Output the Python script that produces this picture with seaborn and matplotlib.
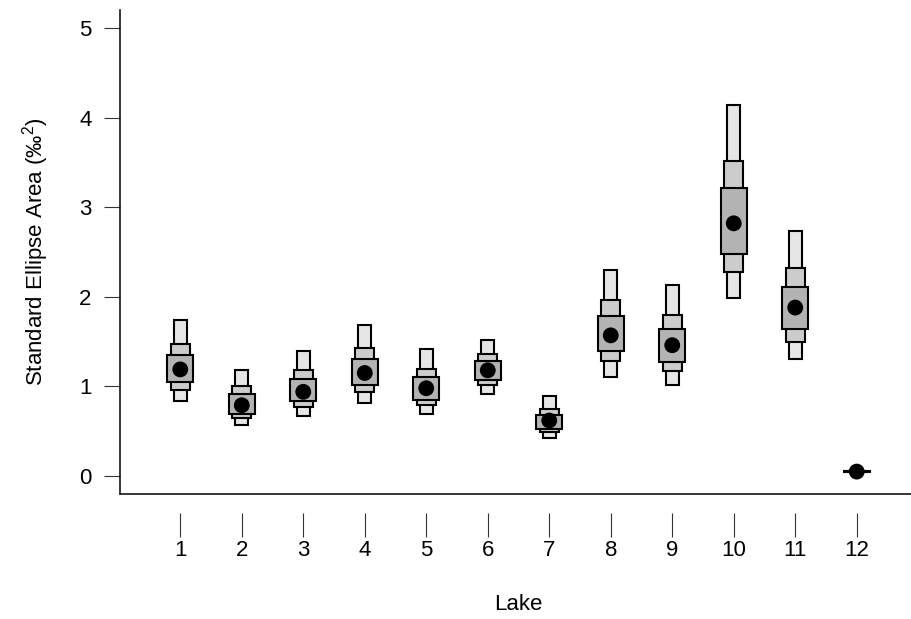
import matplotlib
matplotlib.use("Agg")
import matplotlib.pyplot as plt
import seaborn as sns
import pandas as pd
import numpy as np

lakes = [1, 2, 3, 4, 5, 6, 7, 8, 9, 10, 11, 12]
mode = [1.19, 0.79, 0.94, 1.15, 0.98, 1.18, 0.62, 1.57, 1.46, 2.82, 1.88, 0.05]
ci95_lo = [0.84, 0.57, 0.67, 0.82, 0.69, 0.92, 0.42, 1.11, 1.02, 1.99, 1.31, 0.040]
ci95_hi = [1.74, 1.18, 1.39, 1.69, 1.42, 1.52, 0.89, 2.30, 2.13, 4.14, 2.73, 0.060]
ci75_lo = [0.96, 0.65, 0.77, 0.94, 0.79, 1.02, 0.49, 1.28, 1.17, 2.28, 1.50, 0.043]
ci75_hi = [1.47, 1.01, 1.18, 1.43, 1.20, 1.36, 0.75, 1.96, 1.80, 3.51, 2.32, 0.057]
ci50_lo = [1.05, 0.69, 0.84, 1.02, 0.85, 1.07, 0.53, 1.39, 1.27, 2.48, 1.64, 0.045]
ci50_hi = [1.35, 0.92, 1.08, 1.31, 1.10, 1.28, 0.68, 1.79, 1.64, 3.21, 2.11, 0.055]

df = pd.DataFrame({"Lake": lakes, "mode": mode})

sns.set_style("white")
plt.rcParams["font.family"] = ["Liberation Sans", "DejaVu Sans"]
plt.rcParams["mathtext.fontset"] = "custom"
plt.rcParams["mathtext.rm"] = "Liberation Sans"
plt.rcParams["text.color"] = "black"
plt.rcParams["axes.labelcolor"] = "black"
plt.rcParams["xtick.color"] = "black"
plt.rcParams["ytick.color"] = "black"

fig = plt.figure(figsize=(9.12, 6.19), dpi=100)
ax = fig.add_axes([120 / 912, 125 / 619, (917 - 120) / 912, (609 - 125) / 619])

levels = [
    (ci95_lo, ci95_hi, 0.206, "#e6e6e6"),
    (ci75_lo, ci75_hi, 0.314, "#cccccc"),
    (ci50_lo, ci50_hi, 0.423, "#b3b3b3"),
]
for lo, hi, w, col in levels:
    lo = np.array(lo)
    hi = np.array(hi)
    ax.bar(lakes, hi - lo, bottom=lo, width=w, color=col,
           edgecolor="black", linewidth=1.5, zorder=2)

sns.scatterplot(data=df, x="Lake", y="mode", ax=ax, color="black",
                s=130, edgecolor="none", zorder=3, legend=False)

ax.set_xlim(0.02, 12.98)
ax.set_ylim(-0.2, 5.2)
ax.set_xticks(lakes)
ax.set_xticklabels([str(l) for l in lakes])
ax.set_yticks([0, 1, 2, 3, 4, 5])

for s in ["top", "right"]:
    ax.spines[s].set_visible(False)
ax.spines["left"].set_linewidth(1.1)
ax.spines["left"].set_color("black")
ax.spines["bottom"].set_position(("outward", 14))
ax.spines["bottom"].set_visible(False)
ax.plot([0, 1], [0, 0], transform=ax.transAxes, color="black",
        linewidth=1.1, clip_on=False, zorder=4)

ax.tick_params(axis="x", direction="out", length=17, width=0.8,
               color="#333333", pad=2, labelsize=16, bottom=True)
ax.tick_params(axis="y", direction="out", length=11.5, width=0.8,
               color="#333333", pad=9, labelsize=16, left=True)

ax.set_xlabel("Lake", fontsize=16, labelpad=24)
ax.set_ylabel("Standard Ellipse Area (‰$^{2}$)", fontsize=16, labelpad=20)

fig.savefig("out.png", dpi=100)
